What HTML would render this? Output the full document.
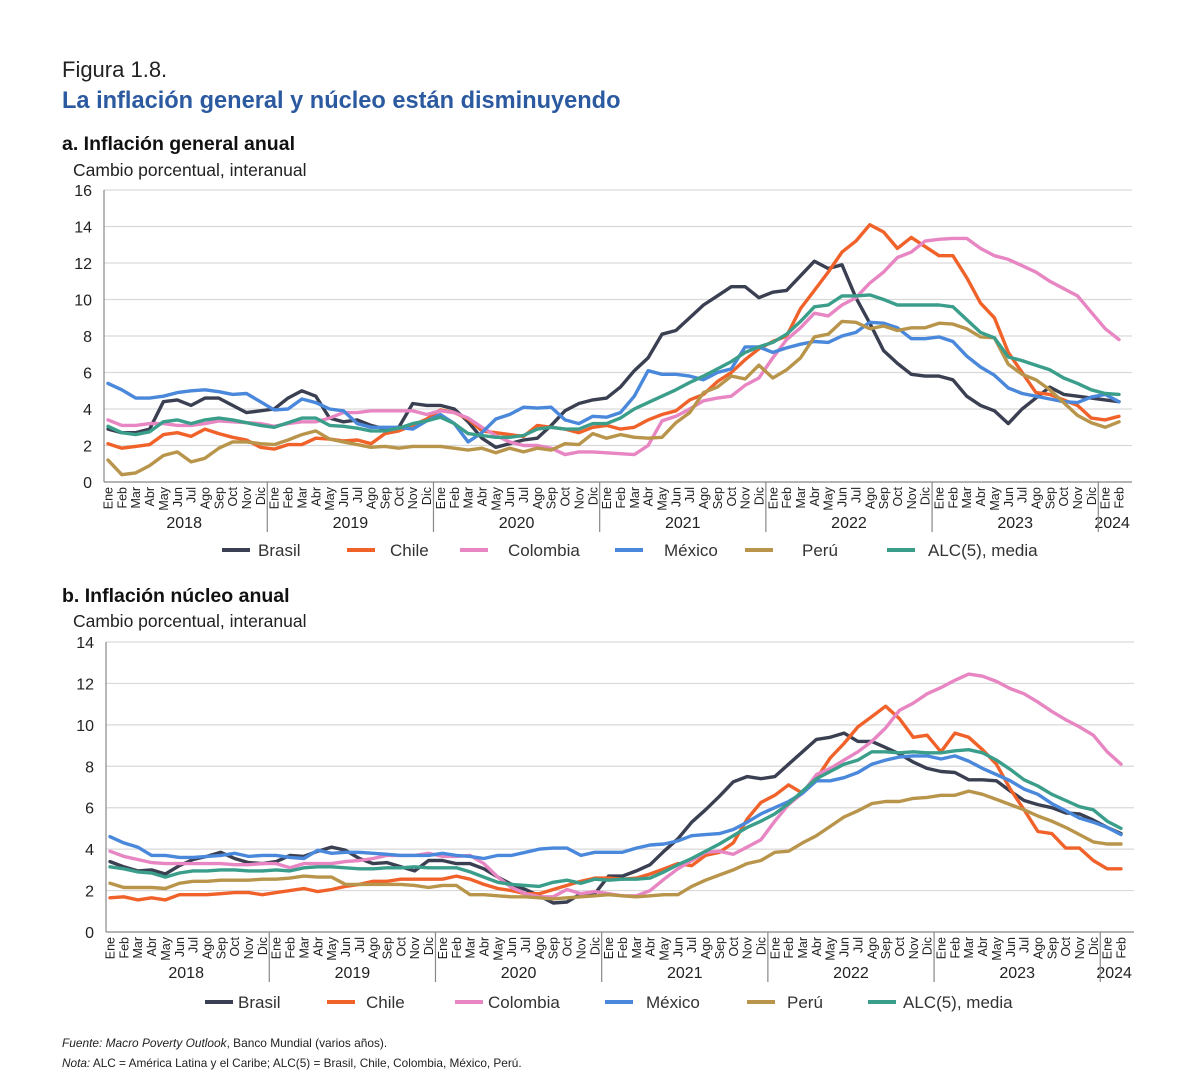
<!DOCTYPE html>
<html><head><meta charset="utf-8"><style>
body{margin:0;background:#fff;}
svg{display:block;font-family:"Liberation Sans",Arial,sans-serif;}
</style></head><body>
<svg id="chart" width="1200" height="1087" viewBox="0 0 1200 1087" xmlns="http://www.w3.org/2000/svg">
<rect width="1200" height="1087" fill="#fff"/>
<text x="62" y="77" font-size="22" fill="#222">Figura 1.8.</text>
<text x="62" y="108" font-size="23.6" font-weight="bold" fill="#2c5aa0">La inflación general y núcleo están disminuyendo</text>
<text x="62" y="150" font-size="19.5" font-weight="bold" fill="#111">a. Inflación general anual</text>
<text x="73" y="176" font-size="17.5" fill="#222">Cambio porcentual, interanual</text>
<text x="62" y="602" font-size="19.5" font-weight="bold" fill="#111">b. Inflación núcleo anual</text>
<text x="73" y="627" font-size="17.5" fill="#222">Cambio porcentual, interanual</text>
<text x="62" y="1047" font-size="11.9" fill="#222"><tspan font-style="italic">Fuente: Macro Poverty Outlook</tspan>, Banco Mundial (varios años).</text>
<text x="62" y="1067" font-size="11.8" fill="#222"><tspan font-style="italic">Nota:</tspan> ALC = América Latina y el Caribe; ALC(5) = Brasil, Chile, Colombia, México, Perú.</text>
<g id="pa"></g>
<g id="pb"></g>
</svg>
<script>
const months = ["Ene","Feb","Mar","Abr","May","Jun","Jul","Ago","Sep","Oct","Nov","Dic"];
const years = ["2018","2019","2020","2021","2022","2023","2024"];
const seriesNames = ["Brasil","Chile","Colombia","México","Perú","ALC(5), media"];
const ticksA = [0,2,4,6,8,10,12,14,16];
const ticksB = [0,2,4,6,8,10,12,14];

const brasilA = [2.9,2.7,2.7,2.9,4.4,4.5,4.2,4.6,4.6,4.2,3.8,3.9, 4.0,4.6,5.0,4.7,3.5,3.3,3.4,3.1,2.9,3.0,4.3,4.2, 4.2,4.0,3.3,2.4,1.9,2.1,2.3,2.4,3.1,3.9,4.3,4.5, 4.6,5.2,6.1,6.8,8.1,8.3,9.0,9.7,10.2,10.7,10.7,10.1, 10.4,10.5,11.3,12.1,11.7,11.9,10.1,8.7,7.2,6.5,5.9,5.8, 5.8,5.6,4.7,4.2,3.9,3.2,4.0,4.6,5.2,4.8,4.7,4.6, 4.5,4.4];
const chileA = [2.1,1.85,1.95,2.05,2.6,2.7,2.5,2.9,2.65,2.45,2.3,1.9, 1.8,2.05,2.05,2.4,2.35,2.25,2.3,2.1,2.65,2.8,3.1,3.45, 3.95,3.8,3.45,2.8,2.7,2.6,2.5,3.1,3.0,2.9,2.7,3.0, 3.1,2.9,3.0,3.4,3.7,3.9,4.5,4.8,5.5,6.0,6.7,7.3, 7.7,8.0,9.5,10.5,11.5,12.6,13.2,14.1,13.7,12.8,13.4,12.9, 12.4,12.4,11.2,9.8,9.0,7.1,6.0,4.9,4.8,4.5,4.2,3.5, 3.4,3.6];
const colombiaA = [3.4,3.1,3.1,3.2,3.2,3.1,3.1,3.2,3.35,3.3,3.25,3.2, 3.05,3.2,3.3,3.3,3.5,3.8,3.8,3.9,3.9,3.9,3.9,3.7, 3.9,3.8,3.5,3.0,2.55,2.2,2.0,2.0,1.85,1.5,1.65,1.65, 1.6,1.55,1.5,2.0,3.35,3.6,4.0,4.45,4.6,4.7,5.3,5.7, 6.8,7.8,8.45,9.25,9.1,9.7,10.1,10.9,11.5,12.3,12.6,13.2, 13.3,13.35,13.35,12.8,12.4,12.2,11.85,11.5,11.0,10.6,10.2,9.3, 8.4,7.8];
const mexicoA = [5.4,5.05,4.6,4.6,4.7,4.9,5.0,5.05,4.95,4.8,4.85,4.4, 3.95,4.0,4.55,4.35,4.0,3.9,3.2,3.0,3.0,3.0,2.9,3.35, 3.7,3.2,2.2,2.7,3.45,3.7,4.1,4.05,4.1,3.4,3.2,3.6, 3.55,3.8,4.7,6.1,5.9,5.9,5.8,5.6,6.0,6.2,7.4,7.4, 7.1,7.35,7.55,7.7,7.65,8.0,8.2,8.75,8.7,8.45,7.85,7.85, 7.95,7.7,6.9,6.3,5.85,5.15,4.85,4.7,4.55,4.4,4.35,4.65, 4.8,4.4];
const peruA = [1.2,0.4,0.5,0.9,1.45,1.65,1.1,1.3,1.85,2.2,2.2,2.1, 2.05,2.3,2.6,2.8,2.35,2.2,2.05,1.9,1.95,1.85,1.95,1.95, 1.95,1.85,1.75,1.85,1.6,1.85,1.65,1.85,1.75,2.1,2.05,2.65, 2.4,2.6,2.45,2.4,2.45,3.25,3.8,4.9,5.2,5.8,5.65,6.4, 5.7,6.15,6.8,7.95,8.1,8.8,8.75,8.4,8.55,8.3,8.45,8.45, 8.7,8.65,8.4,7.95,7.9,6.45,5.9,5.6,5.05,4.35,3.65,3.25, 3.0,3.3];
const alcA = [3.05,2.7,2.6,2.75,3.3,3.4,3.2,3.4,3.5,3.4,3.25,3.1, 3.0,3.25,3.5,3.5,3.1,3.05,2.95,2.8,2.8,2.95,3.2,3.35, 3.55,3.2,2.65,2.55,2.45,2.45,2.55,2.9,3.0,2.9,2.9,3.2, 3.2,3.5,4.0,4.35,4.7,5.05,5.45,5.8,6.2,6.6,7.1,7.4, 7.65,8.1,8.8,9.6,9.7,10.2,10.2,10.25,10.0,9.7,9.7,9.7, 9.7,9.6,8.9,8.2,7.9,6.85,6.65,6.4,6.15,5.7,5.4,5.05, 4.85,4.8];

const brasilB = [3.4,3.15,2.95,3.0,2.8,3.2,3.5,3.65,3.85,3.55,3.35,3.3, 3.4,3.7,3.65,3.9,4.1,3.95,3.55,3.3,3.35,3.15,2.95,3.45, 3.45,3.3,3.3,3.05,2.65,2.3,2.05,1.75,1.4,1.45,1.85,1.85, 2.7,2.7,2.95,3.25,3.9,4.5,5.3,5.9,6.55,7.25,7.5,7.4, 7.5,8.1,8.7,9.3,9.4,9.6,9.2,9.2,8.9,8.6,8.2,7.9, 7.75,7.7,7.35,7.35,7.3,6.8,6.35,6.15,6.0,5.75,5.7,5.4, 5.05,4.75];
const chileB = [1.65,1.7,1.55,1.65,1.55,1.8,1.8,1.8,1.85,1.9,1.9,1.8, 1.9,2.0,2.1,1.95,2.05,2.2,2.3,2.45,2.45,2.55,2.55,2.55, 2.55,2.7,2.55,2.3,2.1,2.0,1.85,1.85,2.05,2.25,2.45,2.6, 2.6,2.55,2.6,2.8,3.05,3.3,3.2,3.7,3.85,4.3,5.45,6.25, 6.6,7.1,6.7,7.4,8.4,9.1,9.9,10.4,10.9,10.3,9.4,9.5, 8.7,9.6,9.4,8.8,8.1,6.9,5.9,4.85,4.75,4.05,4.05,3.45, 3.05,3.05];
const colombiaB = [3.9,3.65,3.5,3.35,3.3,3.3,3.3,3.3,3.3,3.25,3.25,3.3, 3.3,3.1,3.3,3.3,3.3,3.4,3.45,3.55,3.7,3.7,3.7,3.8, 3.65,3.65,3.7,3.3,2.65,2.15,1.85,1.7,1.7,2.05,1.85,1.95, 1.85,1.75,1.75,2.0,2.55,3.05,3.45,3.85,3.9,3.75,4.1,4.45, 5.35,6.15,6.7,7.6,7.9,8.3,8.7,9.2,9.85,10.7,11.05,11.5, 11.8,12.15,12.45,12.35,12.1,11.75,11.5,11.1,10.65,10.25,9.9,9.5, 8.7,8.1];
const mexicoB = [4.6,4.3,4.1,3.7,3.7,3.6,3.6,3.65,3.7,3.8,3.65,3.7, 3.7,3.6,3.55,3.95,3.8,3.85,3.85,3.8,3.75,3.7,3.7,3.7, 3.8,3.7,3.65,3.55,3.7,3.7,3.85,4.0,4.05,4.05,3.7,3.85, 3.85,3.85,4.05,4.2,4.25,4.4,4.65,4.7,4.75,4.95,5.3,5.7, 6.0,6.3,6.7,7.3,7.3,7.45,7.7,8.1,8.3,8.45,8.5,8.5, 8.35,8.5,8.25,7.9,7.6,7.3,6.9,6.65,6.2,5.85,5.5,5.3, 5.05,4.7];
const peruB = [2.35,2.15,2.15,2.15,2.1,2.35,2.45,2.45,2.5,2.5,2.5,2.55, 2.55,2.6,2.7,2.65,2.65,2.3,2.3,2.3,2.3,2.3,2.25,2.15, 2.25,2.25,1.8,1.8,1.75,1.7,1.7,1.65,1.6,1.65,1.7,1.75, 1.8,1.75,1.7,1.75,1.8,1.8,2.2,2.5,2.75,3.0,3.3,3.45, 3.85,3.9,4.3,4.65,5.1,5.55,5.85,6.2,6.3,6.3,6.45,6.5, 6.6,6.6,6.8,6.65,6.4,6.15,5.9,5.6,5.35,5.05,4.7,4.35, 4.25,4.25];
const alcB = [3.15,3.05,2.9,2.85,2.65,2.85,2.95,2.95,3.0,3.0,2.95,2.95, 3.0,2.95,3.1,3.15,3.15,3.1,3.05,3.05,3.1,3.1,3.15,3.1, 3.1,3.1,2.9,2.65,2.4,2.3,2.25,2.2,2.4,2.5,2.35,2.55, 2.5,2.55,2.55,2.6,2.9,3.25,3.55,3.9,4.25,4.65,5.05,5.35, 5.7,6.2,6.8,7.4,7.75,8.1,8.3,8.7,8.7,8.65,8.7,8.65, 8.65,8.75,8.8,8.65,8.3,7.85,7.35,7.05,6.65,6.35,6.05,5.9, 5.35,5.0];

const colors = ["#3a3f52","#f0622a","#e786c2","#4a88dc","#b8954b","#3a9e8b"];
const NS = "http://www.w3.org/2000/svg";
function mk(tag, attrs, parent){const e=document.createElementNS(NS,tag);for(const k in attrs)e.setAttribute(k,attrs[k]);parent.appendChild(e);return e;}

function drawPanel(g, cfg){
  const xs = i => cfg.x0 + i*cfg.step;
  const ys = v => cfg.yBottom - (v/cfg.yMax)*(cfg.yBottom-cfg.yTop);
  cfg.ticks.forEach(t=>{
    if(t>0){
      const gl=mk("line",{x1:cfg.axisX,x2:cfg.right,y1:ys(t),y2:ys(t),stroke:"#d9d9d9","stroke-width":1.2},g);
      
      
    }
    const tl=mk("text",{x:cfg.axisX-12,y:ys(t)+6,"text-anchor":"end","font-size":16,fill:"#222"},g);
    tl.textContent=t;
    
    
  });
  const ya=mk("line",{x1:cfg.axisX,x2:cfg.axisX,y1:cfg.yTop,y2:cfg.yBottom,stroke:"#888","stroke-width":1.2},g);
  
  
  const xa=mk("line",{x1:cfg.axisX,x2:cfg.right,y1:cfg.yBottom,y2:cfg.yBottom,stroke:"#888","stroke-width":1.2},g);
  
  
  const n = cfg.series[0].length;
  for(let i=0;i<n;i++){
    const x=xs(i);
    const ml=mk("text",{x:0,y:0,transform:`translate(${x+4.5},${cfg.yBottom+5}) rotate(-90)`,"text-anchor":"end","font-size":12.5,fill:"#222"},g);
    ml.textContent=months[i%12];
    
    
  }
  years.forEach((yr,k)=>{
    const first=k*12, last=Math.min(k*12+11,n-1);
    const cx=(xs(first)+xs(last))/2;
    const yl=mk("text",{x:cx,y:cfg.yBottom+46,"text-anchor":"middle","font-size":16,fill:"#222"},g);
    yl.textContent=yr;
    
    
    if(k>0){
      const sx=xs(first)-cfg.step/2;
      const sp=mk("line",{x1:sx,x2:sx,y1:cfg.yBottom,y2:cfg.yBottom+50,stroke:"#888","stroke-width":1.2},g);
      
      
    }
  });
  cfg.series.forEach((arr,s)=>{
    const d=arr.map((v,i)=>(i?"L":"M")+xs(i).toFixed(1)+","+ys(v).toFixed(1)).join(" ");
    const p=mk("path",{d:d,fill:"none",stroke:colors[s],"stroke-width":3.4,"stroke-linejoin":"round","stroke-linecap":"round"},g);
    
    
  });
  cfg.legend.forEach((lx,s)=>{
    const ll=mk("line",{x1:lx,x2:lx+28,y1:cfg.legendY,y2:cfg.legendY,stroke:colors[s],"stroke-width":4},g);
    
    
    const lt=mk("text",{x:lx+cfg.legendGap[s],y:cfg.legendY+6,"font-size":17,fill:"#333"},g);
    lt.textContent=seriesNames[s];
    
    
  });
}
drawPanel(document.getElementById("pa"),{x0:108,step:13.85,axisX:104,right:1132,yTop:190,yBottom:482,yMax:16,ticks:ticksA,
  series:[brasilA,chileA,colombiaA,mexicoA,peruA,alcA],legend:[222,347,460,615,745,887],legendGap:[36,43,48,49,57,41],legendY:550});
drawPanel(document.getElementById("pb"),{x0:110,step:13.85,axisX:106,right:1134,yTop:642,yBottom:932,yMax:14,ticks:ticksB,
  series:[brasilB,chileB,colombiaB,mexicoB,peruB,alcB],legend:[205,327,455,605,747,868],legendGap:[33,39,33,41,40,35],legendY:1002});
</script>
</body></html>
